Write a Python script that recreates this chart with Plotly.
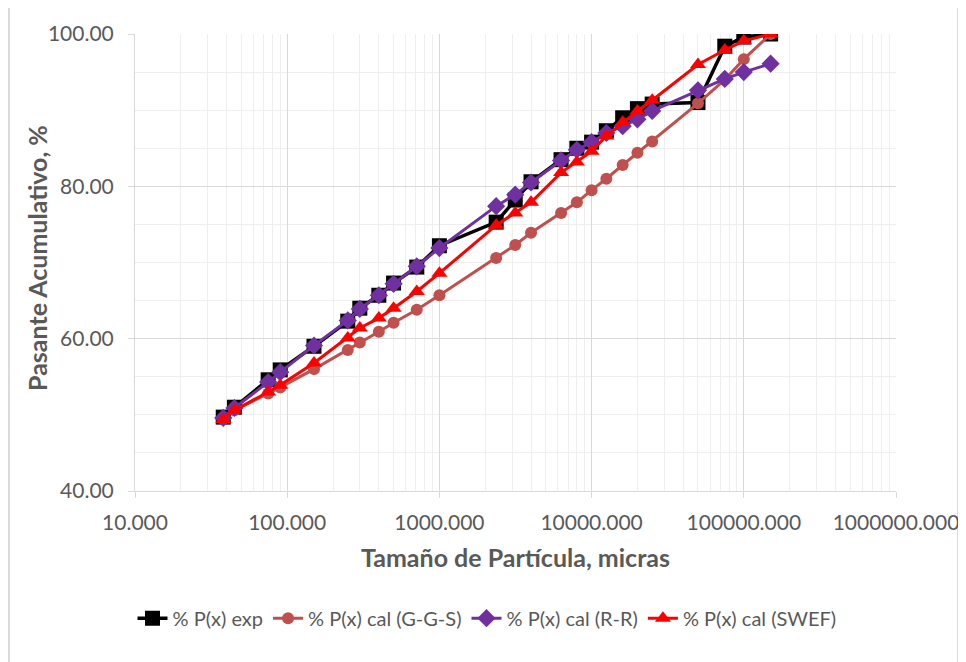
import plotly.graph_objects as go

sizes = [38, 45, 75, 90, 150, 250, 300, 400, 500, 710, 1000, 2360, 3150, 4000,
         6300, 8000, 10000, 12500, 16000, 20000, 25000, 50000, 75000, 100000, 150000]
p_exp = [49.7, 51.0, 54.6, 55.9, 59.0, 62.3, 64.0, 65.7, 67.3, 69.4, 72.2, 75.3, 78.2, 80.6,
         83.5, 85.0, 85.8, 87.3, 89.0, 90.2, 90.8, 91.0, 98.4, 99.6, 100.0]
p_ggs = [49.5, 50.6, 52.8, 53.6, 56.0, 58.5, 59.5, 60.9, 62.1, 63.8, 65.7, 70.6, 72.3, 73.9,
         76.5, 77.9, 79.5, 81.0, 82.8, 84.4, 85.9, 90.9, 94.0, 96.7, 100.0]
p_rr = [49.6, 50.9, 54.3, 55.6, 59.1, 62.4, 63.9, 65.7, 67.2, 69.5, 71.9, 77.4, 78.9, 80.5,
        83.4, 84.8, 85.8, 87.0, 87.9, 88.8, 89.9, 92.6, 94.1, 95.0, 96.1]
p_swef = [49.4, 50.6, 53.0, 53.9, 56.8, 60.1, 61.4, 62.7, 64.0, 66.2, 68.6, 74.9, 76.5, 77.9,
          81.8, 83.2, 84.6, 86.6, 88.4, 89.9, 91.3, 96.0, 97.9, 99.1, 100.0]

names = ["% P(x) exp", "% P(x) cal (G-G-S)", "% P(x) cal (R-R)", "% P(x) cal (SWEF)"]
x_tickvals = [10, 100, 1000, 10000, 100000, 1000000]
x_ticktext = ["10.000", "100.000", "1000.000", "10000.000", "100000.000", "1000000.000"]
y_tickvals = [40, 60, 80, 100]

FONT = "Lato"
fig = go.Figure()
styles = [
    dict(color="#000000", width=3.5, symbol="square", msize=15),
    dict(color="#C0504D", width=3, symbol="circle", msize=12),
    dict(color="#7030A0", width=3, symbol="diamond", msize=14),
    dict(color="#FF0000", width=3, symbol="triangle-up", msize=14),
]
for name, ys, st in zip(names, [p_exp, p_ggs, p_rr, p_swef], styles):
    fig.add_trace(go.Scatter(
        x=sizes, y=ys, name=name, mode="lines+markers",
        line=dict(color=st["color"], width=st["width"]),
        marker=dict(color=st["color"], symbol=st["symbol"], size=st["msize"],
                    line=dict(width=0)),
    ))

fig.update_layout(
    width=958, height=654,
    margin=dict(l=127, r=70, t=26, b=171, autoexpand=False),
    paper_bgcolor="white", plot_bgcolor="white",
    font=dict(family=FONT, color="#595959", size=18),
    showlegend=True,
    legend=dict(orientation="h", xref="container", x=0.5, xanchor="center",
                yref="container", y=0.067, yanchor="middle",
                font=dict(size=20, color="#595959", family=FONT),
                tracegroupgap=0),
)
fig.update_xaxes(
    type="log", range=[1, 6], automargin=False,
    tickvals=x_tickvals, ticktext=x_ticktext,
    showgrid=True, gridcolor="#D9D9D9", gridwidth=1,
    minor=dict(showgrid=True, gridcolor="#EFEFEF", dtick="D1", gridwidth=1),
    showline=True, linecolor="#D9D9D9", linewidth=1,
    ticks="outside", ticklen=6, tickcolor="#D9D9D9", ticklabelstandoff=7,
    tickfont=dict(size=21, color="#595959", family=FONT),
    title=dict(text="<b>Tamaño de Partícula, micras</b>",
               font=dict(size=25, color="#595959", family=FONT), standoff=16),
    zeroline=False,
)
fig.update_yaxes(
    range=[40, 100], tickvals=y_tickvals, tickformat=".2f", automargin=False,
    showgrid=True, gridcolor="#D9D9D9", gridwidth=1,
    minor=dict(showgrid=True, gridcolor="#EFEFEF", dtick=5, gridwidth=1),
    showline=True, linecolor="#D9D9D9", linewidth=1,
    ticks="outside", ticklen=6, tickcolor="#D9D9D9", ticklabelstandoff=10,
    tickfont=dict(size=21, color="#595959", family=FONT),
    zeroline=False,
)
fig.add_annotation(text="<b>Pasante Acumulativo, %</b>", xref="paper", yref="paper",
                   x=-0.1288, y=0.51, xanchor="center", yanchor="middle",
                   textangle=-90, showarrow=False,
                   font=dict(size=25, color="#595959", family=FONT))
fig.add_shape(type="rect", xref="paper", yref="paper",
              x0=-0.1656, x1=1.0815, y0=-0.40, y1=1.0635,
              line=dict(color="#D0D0D0", width=1.5), fillcolor="rgba(0,0,0,0)", layer="below")

fig.write_html("out.html")
